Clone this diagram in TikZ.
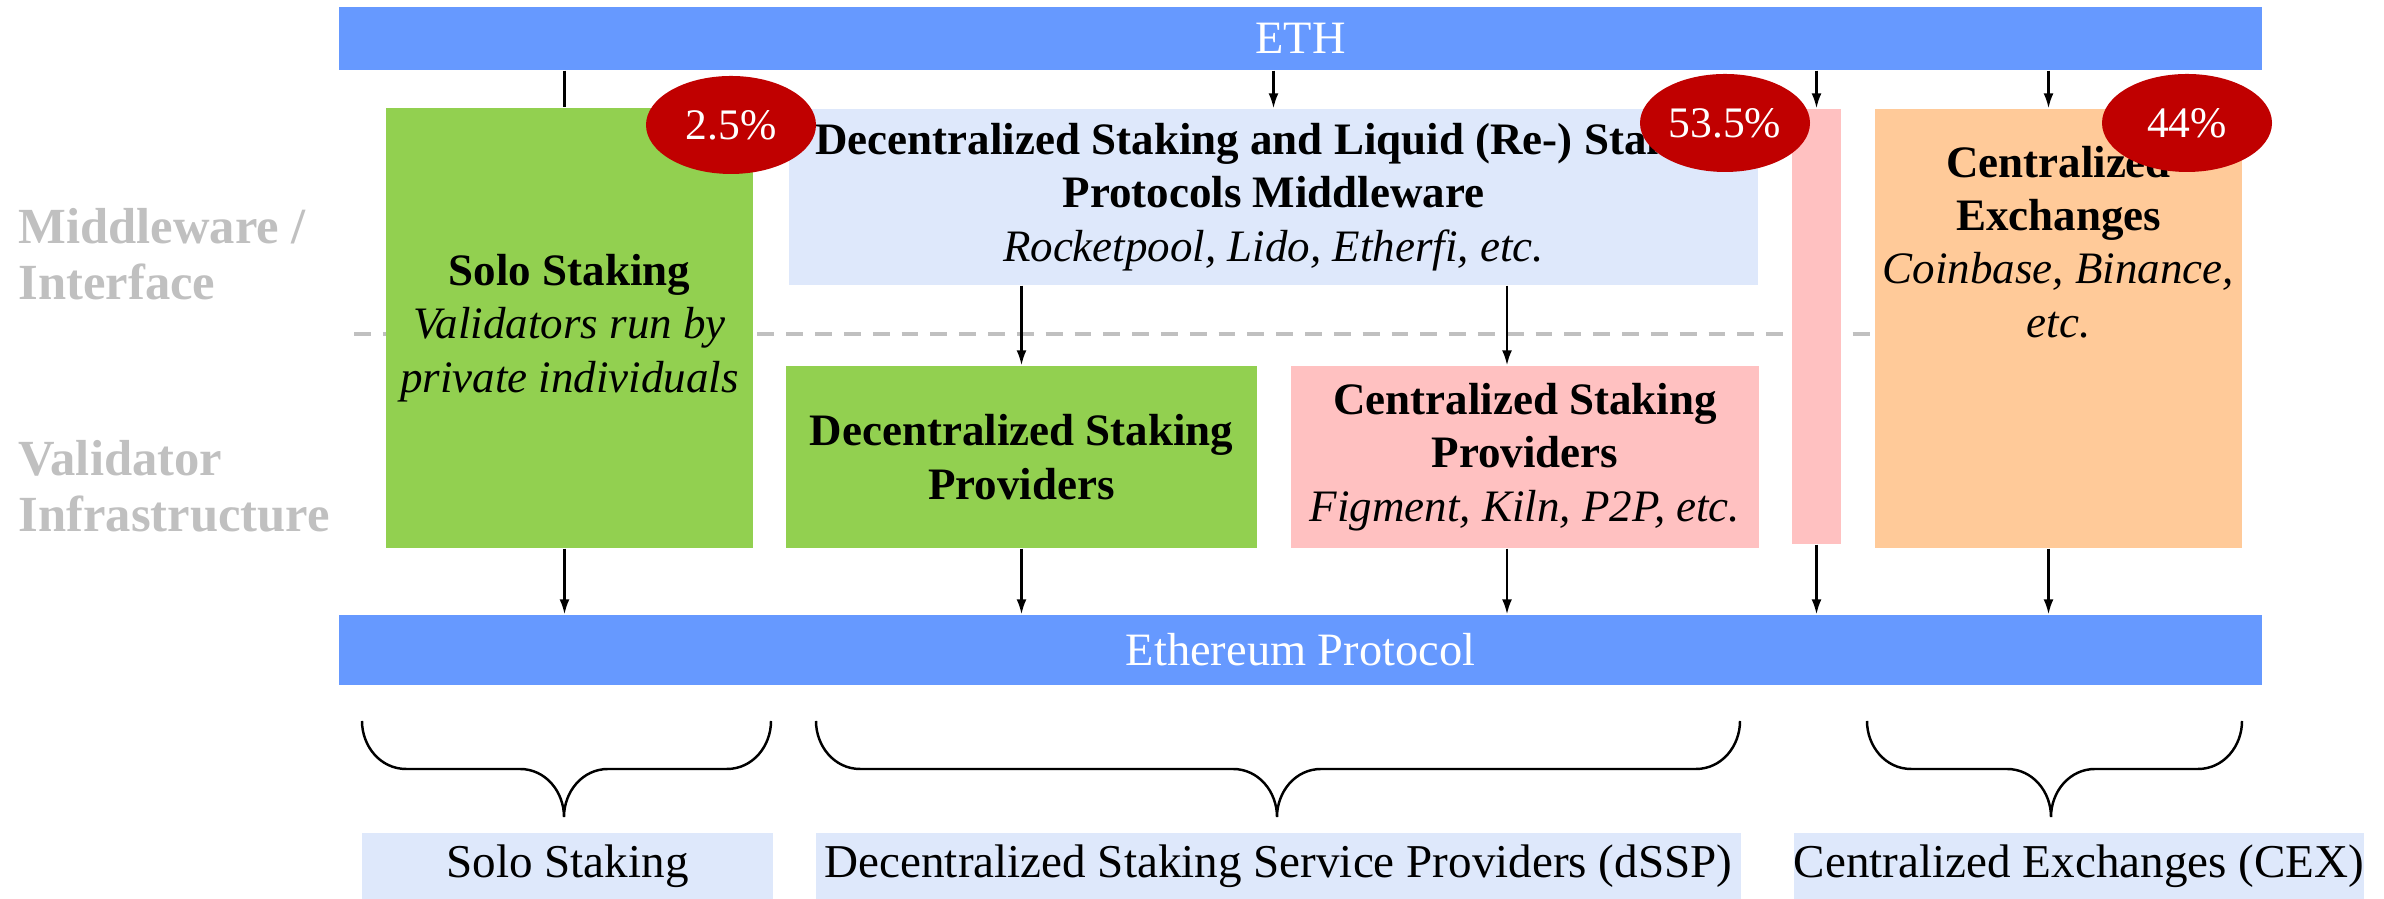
\documentclass[tikz,border=0pt]{standalone}
\usepackage{fontspec}
\setmainfont{Liberation Serif}
\usetikzlibrary{arrows.meta,shapes.geometric}

\definecolor{ethblue}{HTML}{6699FF}
\definecolor{sologreen}{HTML}{92D050}
\definecolor{paleblue}{HTML}{DEE8FB}
\definecolor{palepink}{HTML}{FFC1C1}
\definecolor{paleorange}{HTML}{FFCA99}
\definecolor{sharered}{HTML}{C00000}
\definecolor{layergray}{HTML}{C0C0C0}

\newcommand{\boxfont}{\fontsize{12.8}{15.2}\selectfont}
% curly brace under the protocol bar: left x, right x, tip x
\newcommand{\groupbrace}[3]{%
  \draw[bracestyle] (#1,1.78) to[out=-90,in=180] (#1+0.44,1.30) -- (#3-0.44,1.30)
    to[out=0,in=90] (#3,0.82) to[out=90,in=180] (#3+0.44,1.30) -- (#2-0.44,1.30)
    to[out=0,in=-90] (#2,1.78);}

\begin{document}
\begin{tikzpicture}[
  >={Latex[length=0.15cm,width=0.1cm]},
  ethbar/.style={fill=ethblue,text=white,minimum width=19.23cm,inner sep=0pt,font=\fontsize{13.2}{15}\selectfont},
  block/.style={inner sep=0pt,align=center,font=\boxfont},
  share/.style={ellipse,fill=sharered,text=white,minimum width=1.70cm,minimum height=0.98cm,inner sep=0pt,font=\fontsize{12.4}{14}\selectfont},
  layertext/.style={anchor=west,align=left,inner sep=0pt,text=layergray,font=\fontsize{14.4}{16}\selectfont\bfseries},
  grouplabel/.style={fill=paleblue,minimum height=0.66cm,inner sep=0pt,font=\fontsize{13.4}{15}\selectfont},
  bracestyle/.style={line width=0.7pt},
  flow/.style={->,line width=0.6pt}]
\useasboundingbox (0,0) rectangle (23.84,8.99);

\draw[layergray,line width=1.3pt,dash pattern=on 4.8pt off 3.4pt] (3.54,5.65) -- (22.42,5.65);

\path (13.005,8.605) node[ethbar,minimum height=0.63cm] (eth) {ETH}
      (13.005,2.49) node[ethbar,minimum height=0.70cm] (proto) {Ethereum Protocol}
      (0.18,6.45) node[layertext] (mw) {Middleware /\\Interface}
      (0.18,4.13) node[layertext] (vi) {Validator\\Infrastructure}
      (5.695,5.71) node[block,fill=sologreen,minimum width=3.67cm,minimum height=4.40cm] (solo)
        {\textbf{Solo Staking}\\\textit{Validators run by}\\\textit{private individuals}}
      (12.735,7.02) node[block,fill=paleblue,minimum width=9.69cm,minimum height=1.76cm] (lsp)
        {\textbf{Decentralized Staking and Liquid (Re-) Staking}\\\textbf{Protocols Middleware}\\\textit{Rocketpool, Lido, Etherfi, etc.}}
      (10.215,4.42) node[block,fill=sologreen,minimum width=4.71cm,minimum height=1.82cm] (dsp)
        {\textbf{Decentralized Staking}\\\textbf{Providers}}
      (15.25,4.42) node[block,fill=palepink,minimum width=4.68cm,minimum height=1.82cm] (csp)
        {\textbf{Centralized Staking}\\\textbf{Providers}\\\textit{Figment, Kiln, P2P, etc.}}
      (18.165,5.725) node[block,fill=palepink,minimum width=0.49cm,minimum height=4.35cm] (cspbar) {}
      (20.585,5.705) node[block,fill=paleorange,minimum width=3.67cm,minimum height=4.39cm] (cex) {}
      (20.585,6.57) node[block] (cextxt)
        {\textbf{Centralized}\\\textbf{Exchanges}\\\textit{Coinbase, Binance,}\\\textit{etc.}}
      (7.31,7.74) node[share] (solopct) {2.5\%}
      (17.25,7.76) node[share] (dssppct) {53.5\%}
      (21.87,7.76) node[share] (cexpct) {44\%}
      (5.675,0.33) node[grouplabel,minimum width=4.11cm] (sololbl) {Solo Staking}
      (12.785,0.33) node[grouplabel,minimum width=9.25cm] (dssplbl) {Decentralized Staking Service Providers (dSSP)}
      (20.79,0.33) node[grouplabel,minimum width=5.70cm] (cexlbl) {Centralized Exchanges (CEX)};

\draw[line width=0.6pt] ([xshift=-0.05cm]solo.north |- eth.south) -- ([xshift=-0.05cm]solo.north);
\draw[flow] (lsp.north |- eth.south) -- (lsp.north);
\draw[flow] (cspbar.north |- eth.south) -- (cspbar.north);
\draw[flow] ([xshift=-0.1cm]cex.north |- eth.south) -- ([xshift=-0.1cm]cex.north);
\draw[flow] (dsp.north |- lsp.south) -- (dsp.north);
\draw[flow] ([xshift=-0.18cm]csp.north |- lsp.south) -- ([xshift=-0.18cm]csp.north);

\draw[flow] ([xshift=-0.05cm]solo.south) -- ([xshift=-0.05cm]solo.south |- proto.north);
\draw[flow] (dsp.south) -- (dsp.south |- proto.north);
\draw[flow] ([xshift=-0.18cm]csp.south) -- ([xshift=-0.18cm]csp.south |- proto.north);
\draw[flow] (cspbar.south) -- (cspbar.south |- proto.north);
\draw[flow] ([xshift=-0.1cm]cex.south) -- ([xshift=-0.1cm]cex.south |- proto.north);

\groupbrace{3.62}{7.71}{5.64}
\groupbrace{8.16}{17.40}{12.77}
\groupbrace{18.67}{22.42}{20.51}
\end{tikzpicture}
\end{document}
